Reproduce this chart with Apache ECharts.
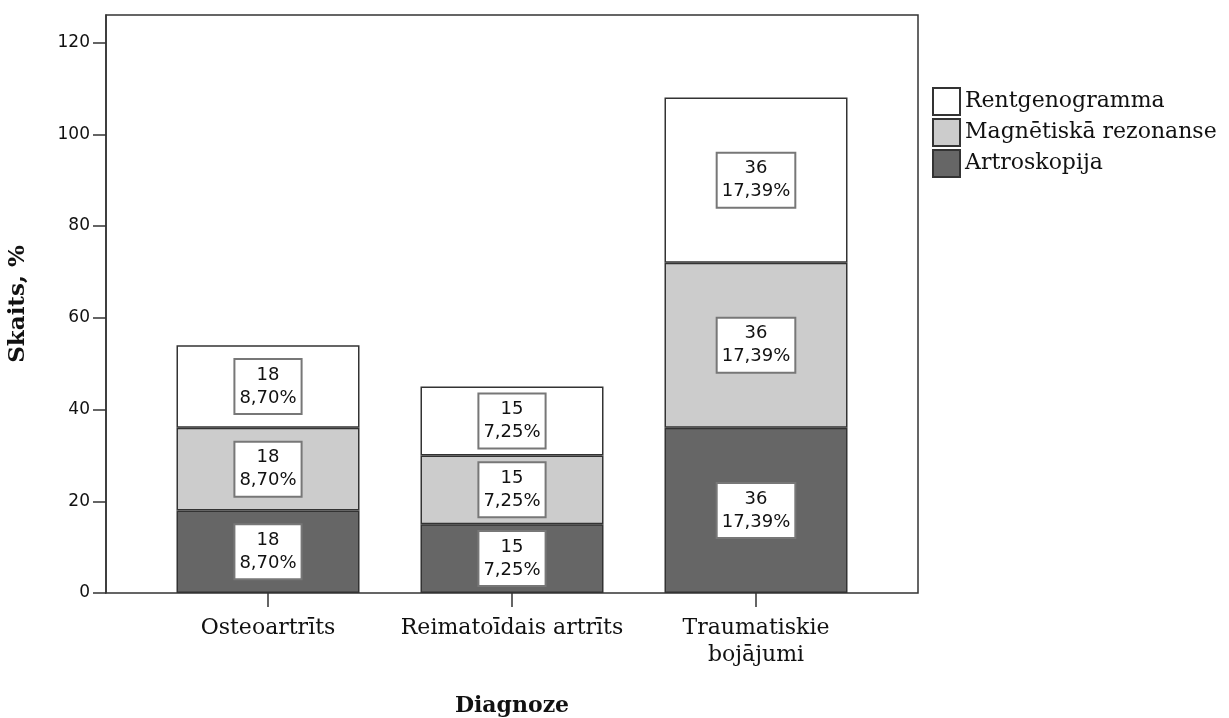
<!DOCTYPE html>
<html><head><meta charset="utf-8">
<script src="https://cdn.jsdelivr.net/npm/echarts@6/dist/echarts.min.js"></script>
<style>html,body{margin:0;padding:0;background:#fff}#c{width:1229px;height:718px}</style>
</head><body><div id="c"></div>
<script>
const categories = ['Osteoartrīts', 'Reimatoīdais artrīts', 'Traumatiskie\nbojājumi'];
const artroskopija = [18, 15, 36];
const magnetiska = [18, 15, 36];
const rentgenogramma = [18, 15, 36];
const seriesNames = ['Artroskopija', 'Magnētiskā rezonanse', 'Rentgenogramma'];
const yTicks = [0, 20, 40, 60, 80, 100, 120];

const total = [...artroskopija, ...magnetiska, ...rentgenogramma].reduce((a, b) => a + b, 0);
const pct = v => (v / total * 100).toFixed(2).replace('.', ',') + '%';

const chart = echarts.init(document.getElementById('c'), null, {renderer: 'canvas'});
const serif = 'DejaVu Serif';
const sans = 'DejaVu Sans';
const colors = ['#666666', '#cccccc', '#ffffff'];
const seriesData = [artroskopija, magnetiska, rentgenogramma];
const YMAX = 126;

chart.setOption({
  animation: false,
  backgroundColor: '#fff',
  grid: [
    {left: 146, right: 351, top: 15, bottom: 125, outerBoundsMode: 'none', containLabel: false},
    {left: 106, right: 311, top: 15, bottom: 125, outerBoundsMode: 'none', containLabel: false,
     show: true, borderColor: '#333', borderWidth: 1.5, backgroundColor: 'transparent', z: 5}
  ],
  legend: {
    left: 932, top: 87, orient: 'vertical', padding: 0,
    data: ['Rentgenogramma', 'Magnētiskā rezonanse', 'Artroskopija'],
    itemWidth: 27, itemHeight: 27, itemGap: 2, icon: 'rect',
    textStyle: {fontFamily: serif, fontSize: 22, color: '#111'}
  },
  xAxis: [
    {
      gridIndex: 0, type: 'category', data: categories, boundaryGap: true,
      name: 'Diagnoze', nameLocation: 'middle', nameGap: 102,
      nameTextStyle: {fontFamily: serif, fontWeight: 'bold', fontSize: 22, color: '#111'},
      axisLine: {show: false},
      axisTick: {show: true, alignWithLabel: true, length: 14, lineStyle: {color: '#333', width: 1.5}},
      axisLabel: {margin: 22, fontFamily: serif, fontSize: 22, color: '#111', lineHeight: 27, interval: 0},
      splitLine: {show: false}
    },
    {
      gridIndex: 1, type: 'value', min: 0, max: 1, show: false
    }
  ],
  yAxis: [
    {gridIndex: 0, type: 'value', min: 0, max: YMAX, show: false},
    {
      gridIndex: 1, type: 'value', min: 0, max: YMAX,
      name: 'Skaits, %', nameLocation: 'middle', nameGap: 76, nameRotate: 90,
      nameTextStyle: {fontFamily: serif, fontWeight: 'bold', fontSize: 23, color: '#111'},
      axisLine: {show: true, lineStyle: {color: '#333', width: 1.5}},
      axisTick: {show: true, length: 13, customValues: yTicks, lineStyle: {color: '#333', width: 1.5}},
      axisLabel: {customValues: yTicks, margin: 16, fontFamily: sans, fontSize: 17, color: '#111'},
      splitLine: {show: false}
    }
  ],
  series: seriesNames.map((name, si) => ({
    name, type: 'bar', stack: 'total', barWidth: 183,
    xAxisIndex: 0, yAxisIndex: 0,
    data: seriesData[si],
    itemStyle: {color: colors[si], borderColor: '#333', borderWidth: 1.5},
    label: {
      show: true, position: 'inside',
      formatter: p => p.value + '\n' + pct(p.value),
      fontFamily: sans, fontSize: 18, lineHeight: 23, color: '#111',
      backgroundColor: '#fff', borderColor: '#777', borderWidth: 2, padding: [4, 4, 3, 4]
    }
  }))
});
</script></body></html>
